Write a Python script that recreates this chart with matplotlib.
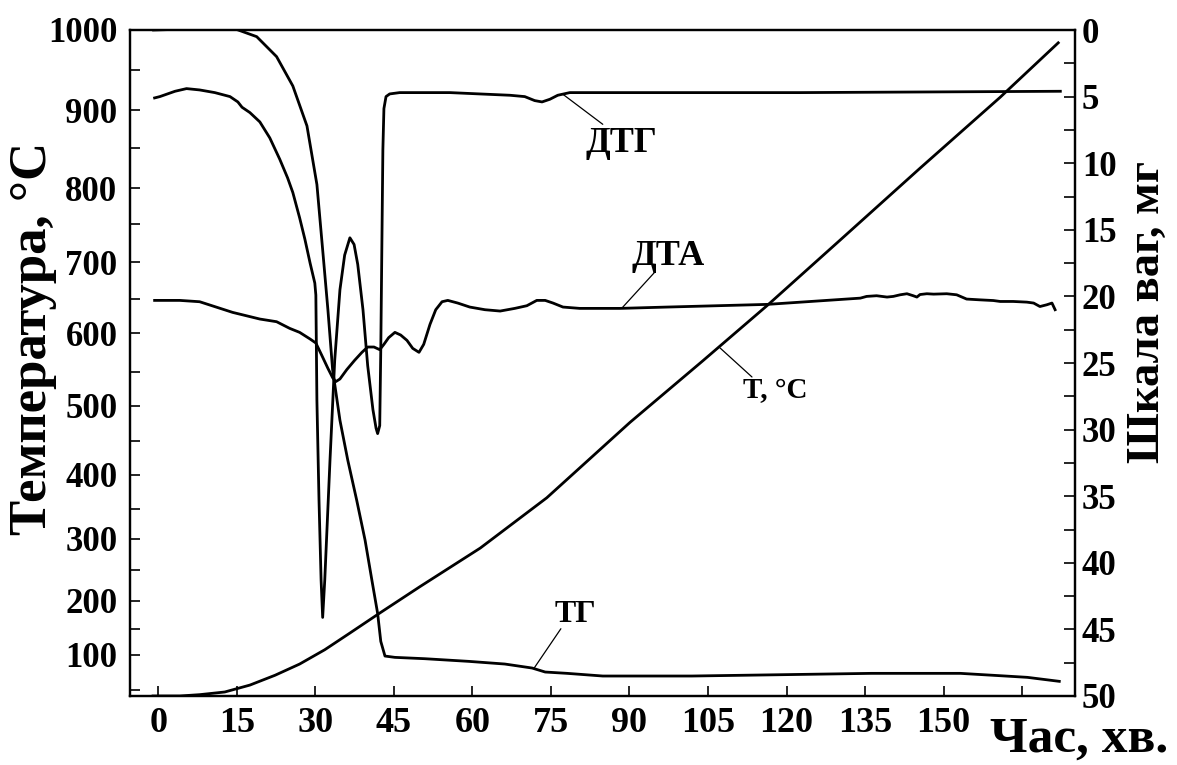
import numpy as np
import matplotlib
matplotlib.use('Agg')
import matplotlib.pyplot as plt
from matplotlib.ticker import FixedLocator, MultipleLocator

plt.rcParams['font.family'] = ['Liberation Serif', 'DejaVu Serif']
plt.rcParams['font.weight'] = 'bold'

# ---------------- data ----------------
# Temperature curve, left axis (deg C) vs time (min)
t_T = [-1.0, 4.1, 7.9, 12.7, 17.5, 22.3, 27.0, 31.8, 36.6, 42.1, 50.0, 61.5,
       74.2, 90.1, 104.0, 116.3, 130.2, 145.5, 160.8, 171.9]
T_val = [41, 41, 43, 47, 57, 71, 87, 110, 142, 177, 223, 285,
         366, 476, 564, 641, 729, 825, 916, 984]

# TG curve, right axis (mg)
t_TG = [-0.9, 7.9, 14.2, 18.8, 22.6, 25.7, 28.4, 30.3, 31.4, 32.4, 33.3, 34.7,
        36.2, 37.9, 39.5, 40.8, 41.9, 42.5, 43.3, 45.2, 50.9, 59.3, 66.2, 71.4,
        73.9, 78.1, 84.9, 101.9, 119.2, 136.2, 153.2, 161.8, 166.0, 172.1]
TG_val = [0.0, -0.1, -0.15, 0.5, 2.0, 4.2, 7.2, 11.6, 16.5, 21.0, 25.5, 29.3,
          32.3, 35.3, 38.3, 41.3, 43.8, 45.9, 47.0, 47.1, 47.2, 47.4, 47.6, 47.9,
          48.2, 48.3, 48.5, 48.5, 48.4, 48.3, 48.3, 48.5, 48.6, 48.9]

# DTG curve (right-axis units)
t_DTG = [-0.7, 0.3, 3.2, 5.4, 7.9, 10.8, 13.7, 15.2, 16.0, 17.5, 19.4, 21.3,
         23.2, 24.7, 25.7, 27.0, 28.0, 29.0, 29.9, 30.1, 30.3, 30.7, 31.1, 31.4,
         31.8, 32.8, 33.7, 34.7, 35.6, 36.6, 37.4, 38.1, 39.1, 40.0, 41.0, 41.6,
         41.9, 42.3, 42.5, 42.7, 42.9, 43.1, 43.5, 44.2, 46.1, 49.9, 55.7, 61.4,
         67.2, 70.0, 71.9, 73.3, 74.8, 76.3, 78.6, 88.2, 122.6, 172.3]
DTG_val = [5.1, 5.0, 4.6, 4.4, 4.5, 4.7, 5.0, 5.4, 5.8, 6.2, 6.9, 8.1,
           9.7, 11.1, 12.2, 14.1, 15.7, 17.5, 19.0, 19.9, 27.8, 35.3, 41.3, 44.1,
           41.3, 32.3, 24.8, 19.5, 16.9, 15.6, 16.1, 17.6, 21.0, 25.2, 28.5, 29.9,
           30.3, 29.7, 24.0, 16.5, 9.0, 5.9, 5.0, 4.8, 4.7, 4.7, 4.7, 4.8,
           4.9, 5.0, 5.3, 5.4, 5.2, 4.9, 4.7, 4.7, 4.7, 4.6]

# DTA curve (right-axis units)
t_DTA = [-0.7, 4.1, 7.9, 14.2, 19.4, 22.6, 25.1, 27.0, 29.0, 30.1, 31.2, 32.4,
         33.3, 33.9, 34.7, 36.0, 37.5, 38.9, 40.0, 41.2, 42.3, 43.1, 44.0, 45.2,
         46.3, 47.5, 48.6, 49.8, 50.7, 51.9, 53.0, 54.2, 55.3, 57.2, 59.5, 62.4,
         65.3, 68.1, 70.4, 72.3, 73.9, 75.4, 77.3, 80.5, 88.2, 97.2, 116.3, 134.1,
         135.3, 137.2, 139.2, 140.4, 141.7, 143.0, 144.2, 144.9, 145.5, 146.8,
         148.1, 150.6, 152.5, 154.4, 157.0, 159.5, 160.8, 163.3, 165.9, 167.2,
         168.4, 169.7, 170.7, 171.3]
DTA_val = [20.3, 20.3, 20.4, 21.2, 21.7, 21.9, 22.4, 22.7, 23.2, 23.5, 24.4, 25.4,
           26.1, 26.4, 26.2, 25.5, 24.8, 24.2, 23.8, 23.8, 24.0, 23.6, 23.1, 22.7,
           22.9, 23.3, 23.9, 24.2, 23.6, 22.1, 21.0, 20.4, 20.3, 20.5, 20.8, 21.0,
           21.1, 20.9, 20.7, 20.3, 20.3, 20.5, 20.8, 20.9, 20.9, 20.8, 20.6, 20.13,
           20.0, 19.95, 20.05, 20.0, 19.88, 19.8, 19.95, 20.05, 19.86, 19.8,
           19.83, 19.8, 19.88, 20.2, 20.26, 20.31, 20.38, 20.38, 20.43, 20.5,
           20.76, 20.63, 20.5, 21.0]

x_ticks = [0, 15, 30, 45, 60, 75, 90, 105, 120, 135, 150, 165]
x_labels = ['0', '15', '30', '45', '60', '75', '90', '105', '120', '135', '150', '']
temp_ticks = [100, 200, 300, 400, 500, 600, 700, 800, 900, 1000]
temp_minor = [50, 150, 250, 350, 450, 550, 650, 750, 850, 950]
mass_ticks = [0, 5, 10, 15, 20, 25, 30, 35, 40, 45, 50]

# non-uniform temperature scale of the original drawing
scale_temp = [-10000, 41, 50, 100, 150, 200, 250, 300, 350, 400, 450, 500, 550,
              600, 650, 700, 750, 800, 850, 900, 950, 1000, 10000]
scale_pos = [-7000, 0, 6, 41, 67, 95, 126, 157, 187, 221, 255, 290, 324,
             362, 396, 433, 471, 507, 547, 585, 625, 665, 7865]


def fwd(v):
    return np.interp(v, scale_temp, scale_pos)


def inv(p):
    return np.interp(p, scale_pos, scale_temp)


# ---------------- figure ----------------
fig = plt.figure(figsize=(11.77, 7.65), dpi=100)
ax = fig.add_axes([130 / 1177, 1 - 696 / 765, 945 / 1177, 666 / 765])
ax.set_yscale('function', functions=(fwd, inv))
ax.set_xlim(-5.4, 175.1)
ax.set_ylim(41, 1000)

ax2 = ax.twinx()
ax2.set_ylim(50, 0)

lw = 2.0
ax.plot(t_T, T_val, color='black', lw=lw)
ax2.plot(t_TG, TG_val, color='black', lw=lw)
ax2.plot(t_DTG, DTG_val, color='black', lw=lw)
ax2.plot(t_DTA, DTA_val, color='black', lw=lw)

for a in (ax, ax2):
    for s in a.spines.values():
        s.set_linewidth(1.6)

ax.xaxis.set_major_locator(FixedLocator(x_ticks))
ax.set_xticklabels(x_labels)
ax.yaxis.set_major_locator(FixedLocator(temp_ticks))
ax.yaxis.set_minor_locator(FixedLocator(temp_minor))
ax.set_yticklabels([str(v) for v in temp_ticks])
ax.tick_params(axis='x', direction='in', length=7, width=1.2, labelsize=26, pad=8,
               top=False)
ax.tick_params(axis='y', which='both', direction='in', length=7, width=1.2,
               labelsize=25, pad=9)

ax2.yaxis.set_major_locator(FixedLocator(mass_ticks))
ax2.yaxis.set_minor_locator(MultipleLocator(2.5))
ax2.set_yticklabels([str(v) for v in mass_ticks])
ax2.tick_params(axis='y', which='both', direction='in', length=8, width=1.2,
                labelsize=25, pad=5)

# axis titles
fig.text(33 / 1177, 1 - 338 / 765, 'Температура, °C', rotation=90, fontsize=38,
         fontweight='bold', ha='center', va='center')
fig.text(1148 / 1177, 1 - 312 / 765, 'Шкала ваг, мг', rotation=90, fontsize=33.5,
         fontweight='bold', ha='center', va='center')
fig.text(1168 / 1177, 1 - 752 / 765, 'Час, хв.', fontsize=37,
         fontweight='bold', ha='right', va='baseline')

# curve labels with leader lines
lead = dict(arrowstyle='-', lw=0.9, color='black', shrinkA=0, shrinkB=0)
ax2.annotate('', xy=(77.2, 4.8), xytext=(84.9, 7.08), arrowprops=lead)
ax2.text(88.4, 8.5, 'ДТГ', fontsize=26, fontweight='bold', ha='center', va='center')
ax2.annotate('', xy=(88.6, 20.86), xytext=(94.9, 18.15), arrowprops=lead)
ax2.text(97.4, 17.0, 'ДТА', fontsize=26, fontweight='bold', ha='center', va='center')
ax2.annotate('', xy=(107.3, 23.87), xytext=(113.4, 26.05), arrowprops=lead)
ax2.text(117.8, 27.1, 'T, °C', fontsize=21, fontweight='bold', ha='center', va='center')
ax2.annotate('', xy=(71.8, 47.9), xytext=(76.9, 44.95), arrowprops=lead)
ax2.text(79.6, 43.9, 'ТГ', fontsize=23, fontweight='bold', ha='center', va='center')

fig.savefig('out.png', dpi=100, facecolor='white')
